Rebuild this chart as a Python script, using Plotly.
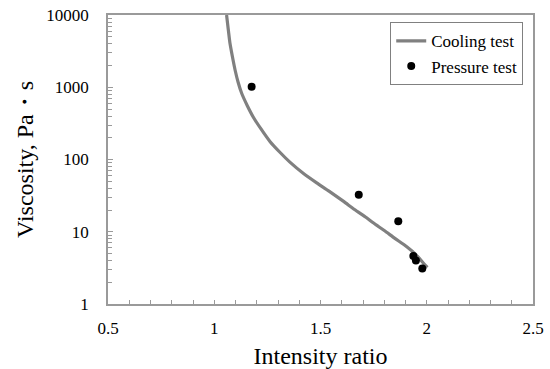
import plotly.graph_objects as go

# Cooling test curve
cool_x = [1.058, 1.066, 1.074, 1.086, 1.098, 1.112, 1.129, 1.155, 1.184, 1.22, 1.262, 1.31, 1.356, 1.42, 1.482, 1.54, 1.607, 1.66, 1.717, 1.748, 1.80, 1.85, 1.906, 1.95, 1.99, 2.003]
cool_y = [10000, 6300, 4060, 2600, 1733, 1180, 825, 560, 385, 265, 178, 125, 92, 64, 47.5, 36.5, 26.5, 20.3, 15.6, 13.3, 10.4, 8.1, 6.2, 4.8, 3.5, 3.2]

# Pressure test points
press_x = [1.176, 1.68, 1.866, 1.937, 1.949, 1.979]
press_y = [1020, 32.6, 14.0, 4.6, 4.0, 3.1]

x_ticks = [0.5, 1, 1.5, 2, 2.5]
y_ticks = [1, 10, 100, 1000, 10000]

FONT = "Liberation Serif"
AXIS_COLOR = "#9a9a9a"

fig = go.Figure()
fig.add_trace(go.Scatter(
    x=cool_x, y=cool_y, mode="lines", name="Cooling test",
    line=dict(color="#808080", width=3.2, shape="spline", smoothing=0.6),
))
fig.add_trace(go.Scatter(
    x=press_x, y=press_y, mode="markers", name="Pressure test",
    marker=dict(color="black", size=8),
))

fig.update_layout(
    template="none",
    width=550, height=369,
    margin=dict(l=108, r=17, t=15, b=65, autoexpand=False),
    paper_bgcolor="white", plot_bgcolor="white",
    font=dict(family=FONT, size=17, color="black"),
    showlegend=True,
    legend=dict(
        x=0.977, y=0.975, xanchor="right", yanchor="top",
        bordercolor="#808080", borderwidth=1, bgcolor="white",
        font=dict(family=FONT, size=17, color="black"),
        itemwidth=30, tracegroupgap=0,
    ),
)
fig.update_xaxes(
    range=[0.5, 2.5], tickvals=x_ticks, ticktext=[str(v) for v in x_ticks],
    tickfont=dict(family=FONT, size=17, color="black"),
    ticks="inside", ticklen=4, tickcolor=AXIS_COLOR, tickwidth=1,
    minor=dict(dtick=0.1, ticks="inside", ticklen=4, tickcolor=AXIS_COLOR, tickwidth=1),
    showline=True, linecolor=AXIS_COLOR, linewidth=1.5, mirror=True,
    showgrid=False, zeroline=False, automargin=False,
    ticklabelstandoff=8,
    title=dict(text="Intensity ratio", font=dict(family=FONT, size=24, color="black"), standoff=12),
)
fig.update_yaxes(
    type="log", range=[0, 4], tickvals=y_ticks, ticktext=[str(v) for v in y_ticks],
    tickfont=dict(family=FONT, size=17, color="black"),
    ticks="inside", ticklen=5, tickcolor=AXIS_COLOR, tickwidth=1,
    minor=dict(ticks="inside", ticklen=4, tickcolor=AXIS_COLOR, tickwidth=1, dtick="D1"),
    showline=True, linecolor=AXIS_COLOR, linewidth=1.5, mirror=True,
    showgrid=False, zeroline=False, automargin=False,
    ticklabelstandoff=14,
    title=dict(text="Viscosity, Pa\u30fbs\u00a0\u00a0\u00a0", font=dict(family=FONT, size=24, color="black"), standoff=6),
)

fig.write_html("out.html")
